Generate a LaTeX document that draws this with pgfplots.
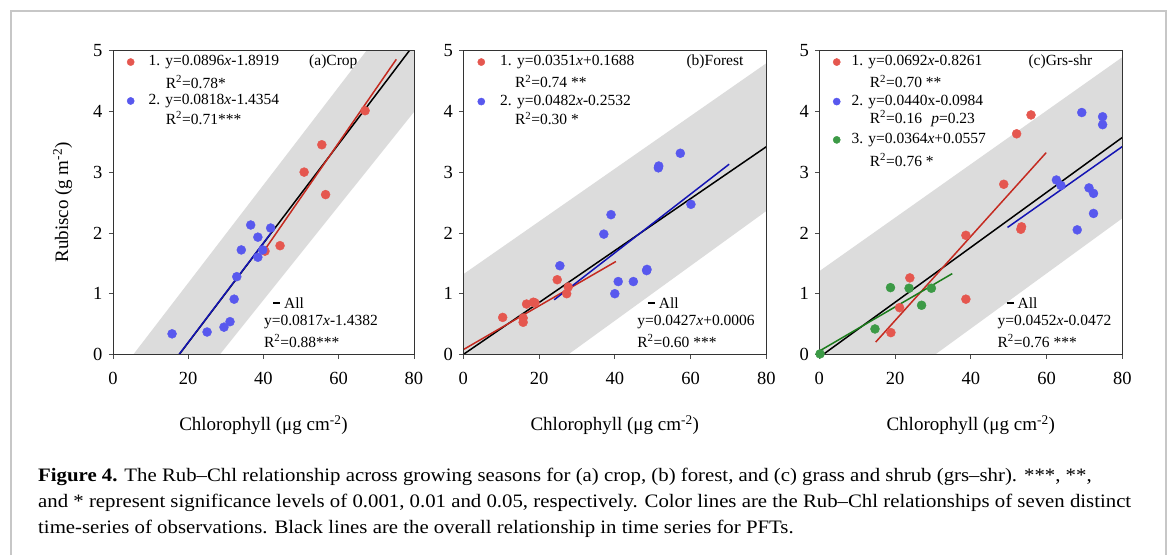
\documentclass[border=0pt]{standalone}
\usepackage{fontspec}
\setmainfont{Liberation Serif}
\usepackage{pgfplots}
\pgfplotsset{compat=1.18}
\definecolor{band}{HTML}{DCDCDC}
\definecolor{mred}{HTML}{E5574F}
\definecolor{mblue}{HTML}{5858EE}
\definecolor{mgreen}{HTML}{3C9A46}
\definecolor{lred}{HTML}{C42A20}
\definecolor{lblue}{HTML}{1414B4}
\definecolor{lgreen}{HTML}{1C7C1C}
\newcommand{\legfont}{\fontsize{15.5}{17}\selectfont}
\newcommand{\Rsq}{R\textsuperscript{2}}
\newcommand{\alldash}{\rule[0.28em]{7pt}{1.6pt}\hspace{4pt}}
\newcommand{\capline}[1]{\scalebox{1.095}[1]{#1}}

\pgfplotsset{
  panel/.style={
    scale only axis, width=303pt, height=304pt, anchor=south west,
    xmin=0, xmax=80, ymin=0, ymax=5,
    xtick={0,20,40,60,80}, ytick={0,1,2,3,4,5},
    tick align=outside, tick pos=left, major tick length=4pt,
    axis line style={black!80, line width=0.8pt},
    tick style={black!70, line width=0.8pt},
    ticklabel style={font=\fontsize{18.5}{20}\selectfont},
    xticklabel style={yshift=-10pt},
    yticklabel style={xshift=-3pt},
    /pgf/number format/assume math mode=true,
    clip=false, axis on top,
    xlabel={Chlorophyll (μg cm\textsuperscript{-2})},
    label style={font=\fontsize{19}{22}\selectfont},
    xlabel style={yshift=-24pt},
  },
  pts/.style={only marks, mark=*, mark size=4.5pt, mark options={draw=#1, fill=#1}},
  key/.style={only marks, mark=*, mark size=3.6pt, mark options={draw=#1, fill=#1}},
  fit/.style={#1, line width=1.5pt},
}

\begin{document}
\begin{tikzpicture}[x=1pt, y=1pt]
\useasboundingbox (0,0) rectangle (1170,555);
\draw[black!22, line width=1.6pt] (11,0) -- (11,544) -- (1166,544) -- (1166,0);

% (a) crop
\begin{axis}[panel, at={(113pt,200.5pt)}, width=301pt,
  ylabel={Rubisco (g m\textsuperscript{-2})}, ylabel style={yshift=14pt}]
\addplot[fill=band, draw=none] coordinates {(5.4,0) (28.4,0) (80,3.99) (80,5) (67.4,5)} -- cycle;
\addplot[pts=mred] coordinates {(67.0,4.01) (55.5,3.45) (50.8,3.0) (56.5,2.63) (44.4,1.79) (40.4,1.70)};
\addplot[pts=mblue] coordinates {(36.6,2.13) (41.9,2.08) (38.5,1.93) (34.1,1.72) (38.5,1.60) (39.8,1.72)
  (32.9,1.28) (32.2,0.91) (31.1,0.54) (29.5,0.45) (25.0,0.37) (15.7,0.34)};
\addplot[fit=black] coordinates {(17.6,0) (78.8,5)};
\addplot[fit=lred] coordinates {(40.6,1.746) (75.3,4.855)};
\addplot[fit=lblue] coordinates {(17.55,0) (42.0,2.0)};
\addplot[key=mred] coordinates {(4.7,4.81)};
\addplot[key=mblue] coordinates {(4.7,4.17)};
\node[anchor=west, inner sep=0pt, font=\legfont] at (axis cs:9.4,4.81) {1. y=0.0896\textit{x}-1.8919};
\node[anchor=west, inner sep=0pt, font=\legfont] at (axis cs:14.0,4.48) {\Rsq=0.78*};
\node[anchor=west, inner sep=0pt, font=\legfont] at (axis cs:9.4,4.17) {2. y=0.0818\textit{x}-1.4354};
\node[anchor=west, inner sep=0pt, font=\legfont] at (axis cs:14.0,3.89) {\Rsq=0.71***};
\node[anchor=west, inner sep=0pt, font=\legfont] at (axis cs:52.1,4.81) {(a)Crop};
\node[anchor=west, inner sep=0pt, font=\legfont] at (axis cs:42.5,0.85) {\alldash All};
\node[anchor=west, inner sep=0pt, font=\legfont] at (axis cs:40.1,0.53) {y=0.0817\textit{x}-1.4382};
\node[anchor=west, inner sep=0pt, font=\legfont] at (axis cs:40.1,0.22) {\Rsq=0.88***};
\end{axis}

% (b) forest
\begin{axis}[panel, at={(463.3pt,200.5pt)}]
\addplot[fill=band, draw=none] coordinates {(0,0) (27.7,0) (80,2.36) (80,4.79) (0,1.32)} -- cycle;
\addplot[pts=mred] coordinates {(10.4,0.61) (15.8,0.60) (15.8,0.53) (16.7,0.83) (18.5,0.86) (18.9,0.85)
  (24.8,1.23) (27.3,1.0) (27.7,1.11)};
\addplot[pts=mblue] coordinates {(25.5,1.46) (37.1,1.98) (39.0,2.30) (51.5,3.07) (51.6,3.10) (57.3,3.31)
  (60.1,2.47) (48.4,1.38) (48.5,1.40) (44.9,1.20) (40.9,1.20) (40.0,1.0)};
\addplot[fit=black] coordinates {(0,0.0006) (80,3.417)};
\addplot[fit=lred] coordinates {(0,0.08) (40.3,1.53)};
\addplot[fit=lblue] coordinates {(24.0,0.90) (70.2,3.13)};
\addplot[key=mred] coordinates {(4.75,4.81)};
\addplot[key=mblue] coordinates {(4.75,4.16)};
\node[anchor=west, inner sep=0pt, font=\legfont] at (axis cs:9.7,4.81) {1. y=0.0351\textit{x}+0.1688};
\node[anchor=west, inner sep=0pt, font=\legfont] at (axis cs:13.6,4.49) {\Rsq=0.74 **};
\node[anchor=west, inner sep=0pt, font=\legfont] at (axis cs:9.7,4.16) {2. y=0.0482\textit{x}-0.2532};
\node[anchor=west, inner sep=0pt, font=\legfont] at (axis cs:13.6,3.88) {\Rsq=0.30 *};
\node[anchor=west, inner sep=0pt, font=\legfont] at (axis cs:58.9,4.81) {(b)Forest};
\node[anchor=west, inner sep=0pt, font=\legfont] at (axis cs:48.7,0.85) {\alldash All};
\node[anchor=west, inner sep=0pt, font=\legfont] at (axis cs:45.9,0.53) {y=0.0427\textit{x}+0.0006};
\node[anchor=west, inner sep=0pt, font=\legfont] at (axis cs:45.9,0.22) {\Rsq=0.60 ***};
\end{axis}

% (c) grass and shrub
\begin{axis}[panel, at={(819.3pt,200.5pt)}]
\addplot[fill=band, draw=none] coordinates {(0,0) (30.6,0) (80,2.24) (80,4.89) (0,1.37)} -- cycle;
\addplot[pts=mred] coordinates {(55.9,3.94) (52.1,3.63) (48.7,2.80) (53.4,2.10) (53.2,2.06) (38.7,1.96)
  (38.7,0.91) (23.9,1.26) (21.2,0.77) (18.9,0.36)};
\addplot[pts=mblue] coordinates {(69.3,3.98) (74.8,3.91) (74.8,3.78) (62.6,2.87) (63.8,2.78) (71.2,2.74)
  (72.4,2.65) (72.4,2.32) (68.1,2.05)};
\addplot[pts=mgreen] coordinates {(0.2,0.01) (14.7,0.42) (18.8,1.10) (23.7,1.09) (29.6,1.09) (27.0,0.81)};
\addplot[fit=black] coordinates {(1.0,0) (80,3.57)};
\addplot[fit=lred] coordinates {(14.9,0.205) (59.9,3.32)};
\addplot[fit=lblue] coordinates {(49.7,2.09) (80,3.42)};
\addplot[fit=lgreen] coordinates {(0,0.056) (35.1,1.33)};
\addplot[key=mred] coordinates {(4.6,4.81)};
\addplot[key=mblue] coordinates {(4.6,4.16)};
\addplot[key=mgreen] coordinates {(4.6,3.53)};
\node[anchor=west, inner sep=0pt, font=\legfont] at (axis cs:8.5,4.81) {1. y=0.0692\textit{x}-0.8261};
\node[anchor=west, inner sep=0pt, font=\legfont] at (axis cs:13.3,4.49) {\Rsq=0.70 **};
\node[anchor=west, inner sep=0pt, font=\legfont] at (axis cs:8.5,4.16) {2. y=0.0440x-0.0984};
\node[anchor=west, inner sep=0pt, font=\legfont] at (axis cs:13.3,3.88) {\Rsq=0.16\hspace{0.6em}\textit{p}=0.23};
\node[anchor=west, inner sep=0pt, font=\legfont] at (axis cs:8.5,3.53) {3. y=0.0364\textit{x}+0.0557};
\node[anchor=west, inner sep=0pt, font=\legfont] at (axis cs:13.3,3.20) {\Rsq=0.76 *};
\node[anchor=west, inner sep=0pt, font=\legfont] at (axis cs:55.2,4.81) {(c)Grs-shr};
\node[anchor=west, inner sep=0pt, font=\legfont] at (axis cs:49.4,0.85) {\alldash All};
\node[anchor=west, inner sep=0pt, font=\legfont] at (axis cs:47.0,0.53) {y=0.0452\textit{x}-0.0472};
\node[anchor=west, inner sep=0pt, font=\legfont] at (axis cs:47.0,0.22) {\Rsq=0.76 ***};
\end{axis}

% caption
\begin{scope}[every node/.style={anchor=base west, inner sep=0pt, font=\fontsize{19}{22}\selectfont}]
\node at (38,74) {\capline{\textbf{Figure 4.} The Rub–Chl relationship across growing seasons for (a) crop, (b) forest, and (c) grass and shrub (grs–shr). ***, **,}};
\node at (38,48) {\capline{and * represent significance levels of 0.001, 0.01 and 0.05, respectively. Color lines are the Rub–Chl relationships of seven distinct}};
\node at (38,22) {\capline{time-series of observations. Black lines are the overall relationship in time series for PFTs.}};
\end{scope}
\end{tikzpicture}
\end{document}
